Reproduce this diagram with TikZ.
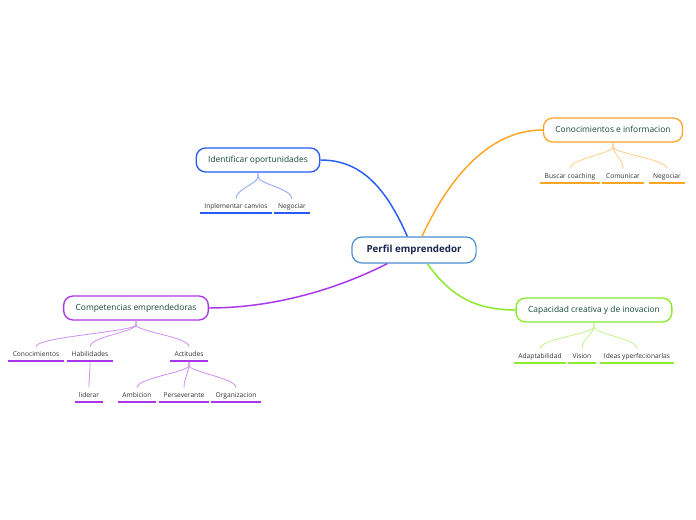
\documentclass[tikz,border=0pt]{standalone}
\usepackage{fontspec}
\setmainfont{Open Sans}
\definecolor{rootline}{HTML}{4A90D2}
\definecolor{roottext}{HTML}{18264F}
\definecolor{topictext}{HTML}{184A3A}
\definecolor{subtext}{HTML}{333333}
\definecolor{cblue}{HTML}{2A5CF5}
\definecolor{corange}{HTML}{FFA526}
\definecolor{cgreen}{HTML}{8AEB2A}
\definecolor{cpurple}{HTML}{A936EB}

\begin{document}
\begin{tikzpicture}[x=0.75pt, y=-0.75pt,
    central/.style={draw=rootline, line width=0.9pt, rounded corners=7.5pt, fill=white,
      minimum height=19.5pt, inner xsep=11pt, text=roottext,
      text height=5.4pt, text depth=1.6pt,
      font=\fontsize{7.3}{9}\selectfont\bfseries},
    topic/.style={draw=#1, line width=1pt, rounded corners=7pt, fill=white,
      minimum height=18pt, inner xsep=9pt, text=topictext,
      text height=4.8pt, text depth=1.4pt,
      font=\fontsize{6.3}{8}\selectfont},
    sub/.style={minimum height=10.5pt, inner xsep=3pt, inner ysep=0pt, text=subtext,
      text height=5.4pt, text depth=1.1pt,
      font=\fontsize{5}{6}\selectfont},
    branch/.style={draw=#1, line width=1.1pt},
    twig/.style={draw=#1!55!white, line width=0.6pt},
    uline/.style={draw=#1, line width=1.4pt}]

  \useasboundingbox[fill=white] (0,0) rectangle (696,520);

  % central topic and main topics
  \node[central] (root) at (414,250) {Perfil emprendedor};
  \node[topic=cblue] (ident) at (258,160) {Identificar oportunidades};
  \node[topic=corange] (conoc) at (613,130) {Conocimientos e informacion};
  \node[topic=cgreen] (capac) at (594,310) {Capacidad creativa y de inovacion};
  \node[topic=cpurple] (compet) at (136,308) {Competencias emprendedoras};

  % main branches
  \draw[branch=cblue] ([xshift=-5pt]root.north) .. controls +(-22,-50) and +(40,0) .. (ident.east);
  \draw[branch=corange] ([xshift=6pt]root.north) .. controls +(30,-65) and +(-50,0) .. (conoc.west);
  \draw[branch=cgreen] ([xshift=10pt]root.south) .. controls +(20,28) and +(-45,0) .. (capac.west);
  \draw[branch=cpurple] ([xshift=-20pt]root.south) .. controls +(-55,28) and +(60,0) .. (compet.east);

  % subtopics
  \node[sub] (inpl) at (236,206) {Inplementar canvios};
  \node[sub] (negid) at (292,206) {Negociar};
  \node[sub] (busc) at (570,176) {Buscar coaching};
  \node[sub] (comun) at (623,176) {Comunicar};
  \node[sub] (negco) at (667,176) {Negociar};
  \node[sub] (adapt) at (540,356) {Adaptabilidad};
  \node[sub] (vision) at (582,356) {Vision};
  \node[sub] (ideas) at (637,356) {Ideas yperfecionarlas};
  \node[sub] (conoc2) at (36,354) {Conocimientos};
  \node[sub] (habil) at (90,354) {Habilidades};
  \node[sub] (actit) at (189,354) {Actitudes};
  \node[sub] (lider) at (89,395) {liderar};
  \node[sub] (ambic) at (137,395) {Ambicion};
  \node[sub] (perse) at (184,395) {Perseverante};
  \node[sub] (organ) at (236,395) {Organizacion};

  % twigs
  \foreach \p/\c/\col in {ident/inpl/cblue, ident/negid/cblue,
      conoc/busc/corange, conoc/comun/corange, conoc/negco/corange,
      capac/adapt/cgreen, capac/vision/cgreen, capac/ideas/cgreen,
      compet/conoc2/cpurple, compet/habil/cpurple, compet/actit/cpurple,
      habil/lider/cpurple, actit/ambic/cpurple, actit/perse/cpurple, actit/organ/cpurple}
    \draw[twig=\col] (\p.south) -- ++(0,4) .. controls +(0,7) and +(0,-10) .. (\c.north);

  % underlines
  \foreach \n/\col in {inpl/cblue, negid/cblue, busc/corange, comun/corange, negco/corange,
      adapt/cgreen, vision/cgreen, ideas/cgreen, conoc2/cpurple, habil/cpurple,
      actit/cpurple, lider/cpurple, ambic/cpurple, perse/cpurple, organ/cpurple}
    \draw[uline=\col] (\n.south west) -- (\n.south east);
\end{tikzpicture}
\end{document}
